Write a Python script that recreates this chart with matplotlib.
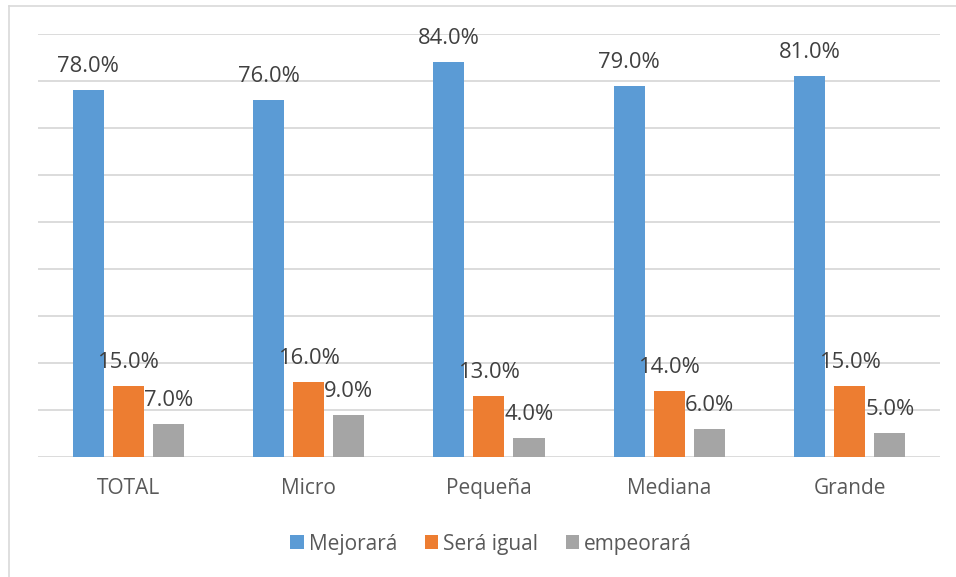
import matplotlib.pyplot as plt
import numpy as np
from matplotlib.lines import Line2D

plt.rcParams['font.family'] = ['Open Sans', 'DejaVu Sans']

# Data
categories = ['TOTAL', 'Micro', 'Pequeña', 'Mediana', 'Grande']
series_names = ['Mejorará', 'Será igual', 'empeorará']
mejorara = [78.0, 76.0, 84.0, 79.0, 81.0]
sera_igual = [15.0, 16.0, 13.0, 14.0, 15.0]
empeorara = [7.0, 9.0, 4.0, 6.0, 5.0]
colors = ['#5B9BD5', '#ED7D31', '#A5A5A5']

fig = plt.figure(figsize=(9.56, 5.77), dpi=100)
ax = fig.add_axes([0.0397, 0.208, 0.9435, 0.733])

x = np.arange(len(categories))
step = 0.222
width = 0.172
all_series = [mejorara, sera_igual, empeorara]
for i, (vals, name, col) in enumerate(zip(all_series, series_names, colors)):
    pos = x + (i - 1) * step
    bars = ax.bar(pos, vals, width, color=col, label=name, zorder=3)
    for b, v in zip(bars, vals):
        ax.annotate(f'{v:.1f}%', (b.get_x() + b.get_width() / 2, v),
                    xytext=(0, 13), textcoords='offset points',
                    ha='center', va='baseline', fontsize=15.8, color='#404040')

ax.set_xlim(-0.5, len(categories) - 0.5)
ax.set_ylim(0, 90)
ax.set_yticks(np.arange(0, 91, 10))
ax.yaxis.grid(True, color='#D9D9D9', linewidth=1.3, zorder=0)
ax.set_yticklabels([])
ax.tick_params(axis='y', length=0)
ax.set_xticks(x)
ax.set_xticklabels(categories, fontsize=15, color='#595959')
ax.tick_params(axis='x', length=0, pad=15)
for s in ax.spines.values():
    s.set_visible(False)

fig.legend(loc='center', bbox_to_anchor=(0.514, 0.057), ncol=3, frameon=False,
           fontsize=15, handlelength=0.65, handleheight=0.63,
           handletextpad=0.25, columnspacing=1.3, labelcolor='#595959')

# chart area border (top and left edges visible)
fig.add_artist(Line2D([8.5 / 956, 1], [1 - 5.5 / 577, 1 - 5.5 / 577],
                      color='#D9D9D9', linewidth=1.2, transform=fig.transFigure))
fig.add_artist(Line2D([8.5 / 956, 8.5 / 956], [0, 1 - 5.5 / 577],
                      color='#D9D9D9', linewidth=1.2, transform=fig.transFigure))

fig.savefig('out.png', dpi=100)
